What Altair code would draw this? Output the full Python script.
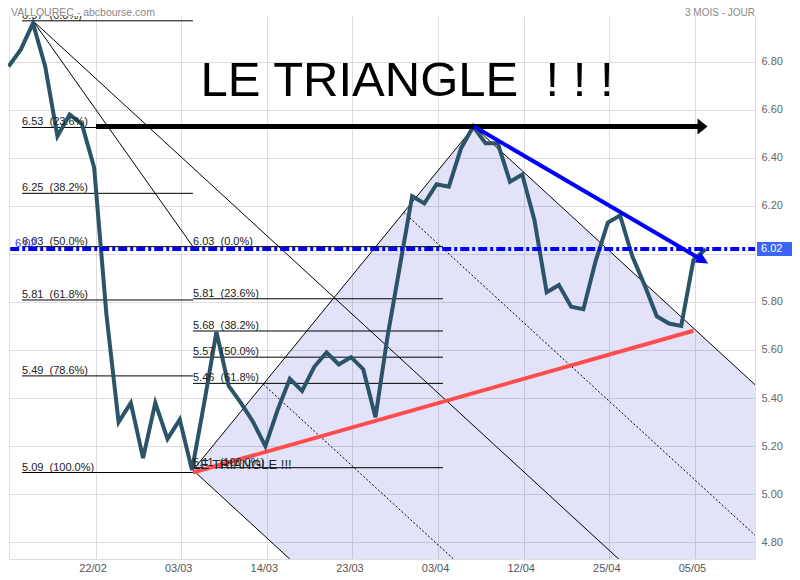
import json
import math
import altair as alt
import pandas as pd

# ---------------- data ----------------
# daily closes, trading-day index 0..57
price = [6.78, 6.85, 6.96, 6.78, 6.49, 6.58, 6.54, 6.36, 5.75, 5.30,
         5.38, 5.15, 5.38, 5.23, 5.31, 5.10, 5.38, 5.675, 5.45, 5.38,
         5.30, 5.20, 5.35, 5.48, 5.43, 5.53, 5.59, 5.54, 5.57, 5.52,
         5.32, 5.66, 5.95, 6.24, 6.21, 6.29, 6.28, 6.44, 6.53, 6.46,
         6.46, 6.30, 6.33, 6.14, 5.84, 5.87, 5.78, 5.77, 5.97, 6.13,
         6.16, 5.99, 5.87, 5.74, 5.71, 5.70, 5.975, 6.02]

x_tick_labels = ["22/02", "03/03", "14/03", "23/03", "03/04", "12/04", "25/04", "05/05"]
x_tick_pos = [7.12, 14.12, 21.12, 28.12, 35.12, 42.12, 49.12, 56.12]
y_ticks = [4.8, 5.0, 5.2, 5.4, 5.6, 5.8, 6.0, 6.2, 6.4, 6.6, 6.8]

fib1_levels = [6.97, 6.526, 6.252, 6.03, 5.808, 5.492, 5.09]
fib1_labels = ["6.97  (0.0%)", "6.53  (23.6%)", "6.25  (38.2%)", "6.03  (50.0%)",
               "5.81  (61.8%)", "5.49  (78.6%)", "5.09  (100.0%)"]
fib1_span = [1.1, 15.08]

fib2_levels = [6.03, 5.813, 5.679, 5.57, 5.461, 5.11]
fib2_labels = ["6.03  (0.0%)", "5.81  (23.6%)", "5.68  (38.2%)", "5.57  (50.0%)",
               "5.46  (61.8%)", "5.11  (100.0%)"]
fib2_span = [15.08, 35.52]

high1 = [2.0, 6.97]
fan1_end = [15.08, 6.03]
channel_low = [15.08, 5.10]
channel_high = [38.06, 6.53]
channel_slope = -0.04678          # price units per trading day
channel_fracs = [0.0, 0.25, 0.75, 1.0]
channel_dotted = [False, True, True, False]

red_line = [[15.08, 5.09], [56.0, 5.68]]
blue_line = [[38.06, 6.53], [57.2, 5.96]]
black_arrow = [[7.15, 6.53], [57.15, 6.53]]
resist_level = 6.02
last_label = "6.02"

title_text = "LE TRIANGLE  ! ! !"
small_text = "LE TRIANGLE !!!"
header_left = "VALLOUREC - abcbourse.com"
header_right = "3 MOIS - JOUR"

# ---------------- layout ----------------
W, H = 746, 543
PAD = {"left": 1, "top": 8, "right": 37, "bottom": 13}
X_DOM = [0.04, 61.03]
Y_DOM = [4.73, 6.99]
px_i = W / (X_DOM[1] - X_DOM[0])
px_v = H / (Y_DOM[1] - Y_DOM[0])
FONT = "Liberation Sans"
nb = lambda s: s.replace("  ", "\u00a0 ")

xs = alt.Scale(domain=X_DOM, nice=False, zero=False)
ys = alt.Scale(domain=Y_DOM, nice=False, zero=False)

axis_x = alt.Axis(values=x_tick_pos,
                  labelExpr=f"{json.dumps(x_tick_labels)}[round((datum.value - 0.12) / 7) - 1]",
                  grid=True, gridColor="#dddddd", ticks=False, domainColor="#dddddd",
                  labelColor="#555555", labelFontSize=11, labelFont=FONT, labelPadding=3,
                  labelOffset=-3, labelFlush=False, labelOverlap=False, title=None)
axis_y = alt.Axis(orient="right", values=y_ticks,
                  labelExpr="datum.value == 6 ? '' : format(datum.value, '.2f')",
                  grid=True, gridColor="#dddddd", ticks=False, domainColor="#dddddd",
                  labelColor="#666666", labelFontSize=11, labelFont=FONT, labelPadding=6,
                  labelOverlap=False, labelBound=False, title=None)

X = alt.X("i:Q", scale=xs, axis=axis_x, title=None)
Y = alt.Y("v:Q", scale=ys, axis=axis_y, title=None)

# ---------------- tables ----------------
price_df = pd.DataFrame({"i": list(range(len(price))), "v": price})

def rows(seg, pts):
    return [{"seg": seg, "k": n, "i": p[0], "v": p[1]} for n, p in enumerate(pts)]

thin = []
for n, lv in enumerate(fib1_levels):
    thin += rows(f"f1_{n}", [[fib1_span[0], lv], [fib1_span[1], lv]])
for n, lv in enumerate(fib2_levels):
    thin += rows(f"f2_{n}", [[fib2_span[0], lv], [fib2_span[1], lv]])
thin += rows("fan1", [high1, fan1_end])
thin += rows("edge", [channel_low, channel_high])
thin_df = pd.DataFrame(thin)

far_i = 62.0
chan_solid, chan_dot = [], []
chan_solid += rows("L2", [high1, [far_i, high1[1] + channel_slope * (far_i - high1[0])]])
for n, (f, dot) in enumerate(zip(channel_fracs, channel_dotted)):
    si = channel_low[0] + f * (channel_high[0] - channel_low[0])
    sv = channel_low[1] + f * (channel_high[1] - channel_low[1])
    seg = rows(f"c{n}", [[si, sv], [far_i, sv + channel_slope * (far_i - si)]])
    (chan_dot if dot else chan_solid).extend(seg)
chan_solid_df = pd.DataFrame(chan_solid)
chan_dot_df = pd.DataFrame(chan_dot)

# shaded channel polygon expressed as an area (upper / lower boundary)
edge_slope = (channel_high[1] - channel_low[1]) / (channel_high[0] - channel_low[0])
i_bot = channel_low[0] + (Y_DOM[0] - channel_low[1]) / channel_slope
shade_df = pd.DataFrame({
    "i": [channel_low[0], i_bot, channel_high[0], far_i],
    "v": [channel_low[1], channel_low[1] + edge_slope * (i_bot - channel_low[0]),
          channel_high[1], channel_high[1] + channel_slope * (far_i - channel_high[0])],
    "v2": [channel_low[1], Y_DOM[0], Y_DOM[0], Y_DOM[0]],
})

red_df = pd.DataFrame(rows("red", red_line))

# blue arrow: shorten shaft so the head covers the tip
bdx = (blue_line[1][0] - blue_line[0][0]) * px_i
bdy = (blue_line[0][1] - blue_line[1][1]) * px_v
blen = math.hypot(bdx, bdy)
b_angle = math.degrees(math.atan2(bdy, bdx))
sh = 9.0
blue_end = [blue_line[1][0] - sh * bdx / blen / px_i, blue_line[1][1] + sh * bdy / blen / px_v]
blue_df = pd.DataFrame(rows("blue", [blue_line[0], blue_end]))
blue_head = pd.DataFrame({"i": [blue_line[1][0]], "v": [blue_line[1][1]]})

black_df = pd.DataFrame(rows("black", [black_arrow[0], [black_arrow[1][0] - 8 / px_i, black_arrow[1][1]]]))
black_head = pd.DataFrame({"i": [black_arrow[1][0]], "v": [black_arrow[1][1]]})

resist_df = pd.DataFrame(rows("res", [[X_DOM[0] + 0.1, resist_level], [X_DOM[1], resist_level]]))

fib1_text = pd.DataFrame({"i": [fib1_span[0]] * len(fib1_levels), "v": fib1_levels,
                          "t": [nb(s) for s in fib1_labels]})
fib2_text = pd.DataFrame({"i": [fib2_span[0]] * len(fib2_levels), "v": fib2_levels,
                          "t": [nb(s) for s in fib2_labels]})

# ---------------- layers ----------------
shade = alt.Chart(shade_df).mark_area(color="#1010d0", opacity=0.12, clip=True).encode(
    x=X, y=Y, y2="v2:Q")

left_border = alt.Chart(price_df.head(1)).mark_rule(color="#dddddd", strokeWidth=1).encode(
    x=alt.value(0.5), y=alt.value(0), y2=alt.value(H))

thin_lines = alt.Chart(thin_df).mark_line(color="black", strokeWidth=1, clip=True).encode(
    x=X, y=Y, detail="seg:N", order="k:Q")
chan_lines = alt.Chart(chan_solid_df).mark_line(color="black", strokeWidth=1, clip=True).encode(
    x=X, y=Y, detail="seg:N", order="k:Q")
chan_dots = alt.Chart(chan_dot_df).mark_line(color="black", strokeWidth=1, strokeDash=[2, 2],
                                            clip=True).encode(
    x=X, y=Y, detail="seg:N", order="k:Q")

red = alt.Chart(red_df).mark_line(color="#ff4c4c", strokeWidth=4).encode(x=X, y=Y, order="k:Q")

price_line = alt.Chart(price_df).mark_line(color="#2c5468", strokeWidth=4).encode(x=X, y=Y)

resist = alt.Chart(resist_df).mark_line(color="#0000ff", strokeWidth=4,
                                        strokeDash=[9, 3, 3, 3]).encode(x=X, y=Y, order="k:Q")

black = alt.Chart(black_df).mark_line(color="black", strokeWidth=5).encode(x=X, y=Y, order="k:Q")
black_tip = alt.Chart(black_head).mark_point(shape="M0,0L-2,-1.6L-2,1.6Z", size=100, filled=True,
                                             color="black", opacity=1, strokeWidth=0).encode(x=X, y=Y)

blue = alt.Chart(blue_df).mark_line(color="#0000ff", strokeWidth=4).encode(x=X, y=Y, order="k:Q")
blue_tip = alt.Chart(blue_head).mark_point(shape="M0,0L-2,-1L-2,1Z", size=144, filled=True,
                                           color="#0000ff", opacity=1, strokeWidth=0,
                                           angle=b_angle).encode(x=X, y=Y)

fib1_t = alt.Chart(fib1_text).mark_text(align="left", baseline="alphabetic", dy=-2, fontSize=11,
                                        font=FONT, color="#222222", clip=True).encode(
    x=X, y=Y, text="t:N")
fib2_t = alt.Chart(fib2_text).mark_text(align="left", baseline="alphabetic", dy=-2, fontSize=11,
                                        font=FONT, color="#222222").encode(x=X, y=Y, text="t:N")

blue_lbl = alt.Chart(pd.DataFrame({"i": [0.53], "v": [resist_level], "t": [last_label]})).mark_text(
    align="left", baseline="alphabetic", dy=-2, fontSize=11, font=FONT, color="#3333ff").encode(
    x=X, y=Y, text="t:N")

small_t = alt.Chart(pd.DataFrame({"i": [channel_low[0]], "v": [channel_low[1]], "t": [small_text]})).mark_text(
    align="left", baseline="alphabetic", dy=-1, fontSize=13, font=FONT, color="#222222").encode(
    x=X, y=Y, text="t:N")

big_t = alt.Chart(pd.DataFrame({"t": [nb(title_text)]})).mark_text(
    align="center", baseline="alphabetic", fontSize=49, font=FONT, color="black").encode(
    x=alt.value(398), y=alt.value(80), text="t:N")

hdr_l = alt.Chart(pd.DataFrame({"t": [header_left]})).mark_text(
    align="left", baseline="alphabetic", fontSize=10.5, font=FONT, color="#888888").encode(
    x=alt.value(2), y=alt.value(-0.5), text="t:N")
hdr_r = alt.Chart(pd.DataFrame({"t": [header_right]})).mark_text(
    align="right", baseline="alphabetic", fontSize=10, font=FONT, color="#888888").encode(
    x=alt.value(W), y=alt.value(-0.5), text="t:N")

hl_df = pd.DataFrame({"v": [resist_level + 7 / px_v], "v2": [resist_level - 7 / px_v],
                      "t": [last_label]})
hl_box = alt.Chart(hl_df).mark_rect(color="#3b66f5").encode(
    x=alt.value(W + 2), x2=alt.value(W + PAD["right"]), y=Y, y2="v2:Q")
hl_txt = alt.Chart(pd.DataFrame({"v": [resist_level], "t": [last_label]})).mark_text(
    align="left", baseline="middle", fontSize=11, font=FONT, color="white").encode(
    x=alt.value(W + 6), y=Y, text="t:N")

chart = alt.layer(
    shade, left_border, thin_lines, chan_lines, chan_dots, red, price_line, resist,
    black, black_tip, blue, blue_tip, fib1_t, fib2_t, blue_lbl, small_t, big_t,
    hdr_l, hdr_r, hl_box, hl_txt,
).properties(
    width=W, height=H,
    autosize=alt.AutoSizeParams(type="none"),
    padding=PAD,
).configure_view(stroke=None)

chart.save("out.html", embed_options={"renderer": "svg", "actions": False})
